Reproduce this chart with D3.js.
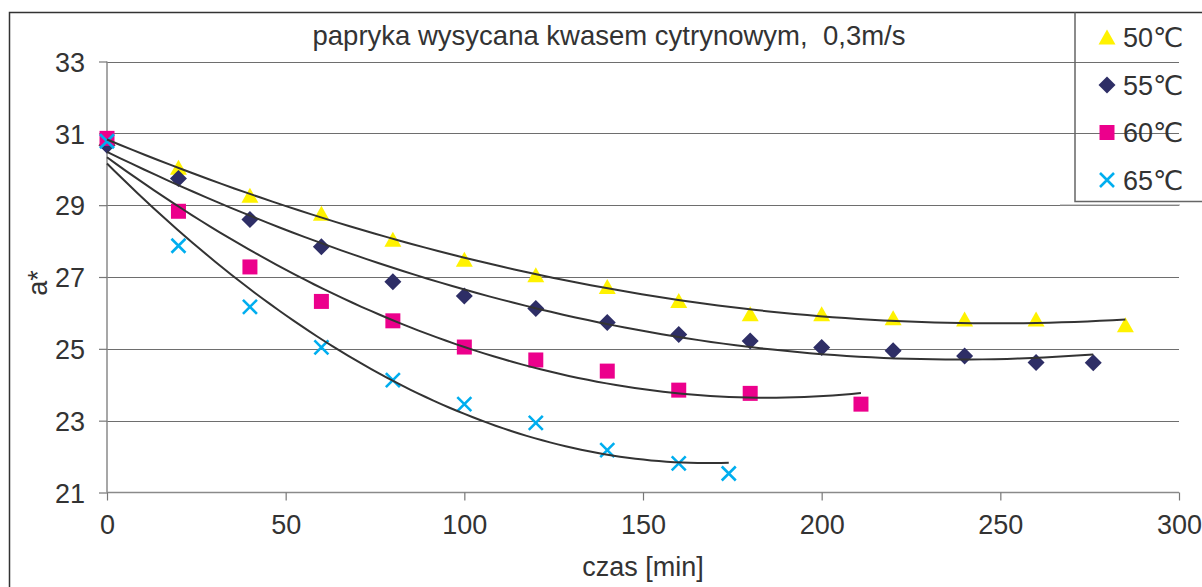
<!DOCTYPE html>
<meta charset="utf-8">
<style>
    body { margin: 0; background: #fff; }
    text {
        font-family: "Liberation Sans", Arial, "DejaVu Sans", sans-serif;
        fill: #333;
    }
    .grid line { stroke: #6e6e6e; stroke-width: 1px; }
    .trend { fill: none; stroke: #333; stroke-width: 2px; }
</style>
<body>
<script src="https://d3js.org/d3.v7.min.js"></script>
<script>

const title = "papryka wysycana kwasem cytrynowym,  0,3m/s";
const xTicks = [0, 50, 100, 150, 200, 250, 300];
const yTicks = [21, 23, 25, 27, 29, 31, 33];

const times50 = [0, 20, 40, 60, 80, 100, 120, 140, 160, 180, 200, 220, 240, 260, 285];
const a50 = [30.85, 30.04, 29.26, 28.76, 28.04, 27.48, 27.05, 26.72, 26.33, 25.96, 25.96, 25.85, 25.82, 25.82, 25.66];

const times55 = [0, 20, 40, 60, 80, 100, 120, 140, 160, 180, 200, 220, 240, 260, 276];
const a55 = [30.67, 29.74, 28.6, 27.84, 26.87, 26.47, 26.12, 25.73, 25.4, 25.22, 25.04, 24.95, 24.8, 24.62, 24.61];

const times60 = [0, 20, 40, 60, 80, 100, 120, 140, 160, 180, 211];
const a60 = [30.86, 28.83, 27.28, 26.32, 25.78, 25.05, 24.69, 24.38, 23.85, 23.76, 23.46];

const times65 = [0, 20, 40, 60, 80, 100, 120, 140, 160, 174];
const a65 = [30.78, 27.87, 26.17, 25.04, 24.13, 23.46, 22.94, 22.18, 21.81, 21.53];

const seriesNames = ["50\u2103", "55\u2103", "60\u2103", "65\u2103"];
const seriesColors = ["#fff200", "#2e2e66", "#ec008c", "#00aeef"];
const seriesShapes = ["triangle", "diamond", "square", "cross"];

const width = 1202;
const height = 587;

const svg = d3.select("body").append("svg")
    .attr("width", width)
    .attr("height", height);

const x = d3.scaleLinear().domain([0, 300]).range([107, 1179]);
const y = d3.scaleLinear().domain([21, 33]).range([492.5, 61.5]);

// outer frame (runs off the right and bottom edge)
svg.append("path")
    .attr("d", `M9.5,${height + 5} V12.5 H${width + 5}`)
    .attr("fill", "none")
    .attr("stroke", "#333")
    .attr("stroke-width", 1.5);

// gridlines
svg.append("g").attr("class", "grid")
    .selectAll("line")
    .data(yTicks.filter(d => d > 21))
    .enter().append("line")
    .attr("x1", x(0)).attr("x2", x(300))
    .attr("y1", d => Math.round(y(d)) + 0.5)
    .attr("y2", d => Math.round(y(d)) + 0.5);

// axes
const xAxis = svg.append("g")
    .attr("transform", `translate(0,${y(21)})`)
    .call(d3.axisBottom(x).tickValues(xTicks).tickSize(8).tickPadding(14).tickFormat(d3.format("d")));
const yAxis = svg.append("g")
    .attr("transform", `translate(${x(0)},0)`)
    .call(d3.axisLeft(y).tickValues(yTicks).tickSize(8).tickPadding(14).tickFormat(d3.format("d")));

[xAxis, yAxis].forEach(g => {
    g.select(".domain").attr("stroke", "#8a8a8a").attr("stroke-width", 1.5);
    g.selectAll(".tick line").attr("stroke", "#777").attr("stroke-width", 1.2);
    g.selectAll(".tick text")
        .attr("fill", "#333")
        .style("font-family", '"Liberation Sans", Arial, sans-serif')
        .style("font-size", "27px");
});
xAxis.select(".domain").attr("d", `M${x(0)},0H${x(300)}`);
yAxis.select(".domain").attr("d", `M0,${y(21)}V${y(33)}`);
yAxis.selectAll(".tick text").attr("dy", "0.36em");

// marker shapes
function markerPath(shape) {
    if (shape === "triangle") return "M0,-8L8.5,7L-8.5,7Z";
    if (shape === "diamond") return "M0,-8.5L8.5,0L0,8.5L-8.5,0Z";
    if (shape === "square") return "M-7.5,-7.5H7.5V7.5H-7.5Z";
    return "M-7,-7L7,7M-7,7L7,-7";
}

function drawMarker(g, shape, color) {
    const p = g.append("path").attr("d", markerPath(shape));
    if (shape === "cross") {
        p.attr("fill", "none").attr("stroke", color).attr("stroke-width", 2.6);
    } else {
        p.attr("fill", color);
    }
}

const allTimes = [times50, times55, times60, times65];
const allValues = [a50, a55, a60, a65];

allTimes.forEach((ts, i) => {
    const pts = ts.map((t, j) => [t, allValues[i][j]]);
    svg.append("g").selectAll("g")
        .data(pts)
        .enter().append("g")
        .attr("transform", d => `translate(${x(d[0])},${y(d[1])})`)
        .each(function () { drawMarker(d3.select(this), seriesShapes[i], seriesColors[i]); });
});

// second order polynomial trendline (least squares, like Excel)
function polyFit(xs, ys) {
    const s = [0, 0, 0, 0, 0], t = [0, 0, 0];
    xs.forEach((xv, k) => {
        for (let p = 0; p < 5; p++) s[p] += Math.pow(xv, p);
        for (let p = 0; p < 3; p++) t[p] += ys[k] * Math.pow(xv, p);
    });
    const m = [[s[0], s[1], s[2], t[0]], [s[1], s[2], s[3], t[1]], [s[2], s[3], s[4], t[2]]];
    for (let c = 0; c < 3; c++) {
        for (let r = c + 1; r < 3; r++) {
            const f = m[r][c] / m[c][c];
            for (let k = c; k < 4; k++) m[r][k] -= f * m[c][k];
        }
    }
    const coef = [0, 0, 0];
    for (let r = 2; r >= 0; r--) {
        let v = m[r][3];
        for (let k = r + 1; k < 3; k++) v -= m[r][k] * coef[k];
        coef[r] = v / m[r][r];
    }
    return coef;
}

const line = d3.line().x(d => x(d[0])).y(d => y(d[1])).curve(d3.curveLinear);

allTimes.forEach((ts, i) => {
    const c = polyFit(ts, allValues[i]);
    const last = ts[ts.length - 1];
    const curve = d3.range(0, last + 0.001, last / 80)
        .map(t => [t, c[0] + c[1] * t + c[2] * t * t]);
    svg.append("path").attr("class", "trend").attr("d", line(curve));
});

// title and axis titles
svg.append("text")
    .attr("x", 609).attr("y", 45)
    .attr("text-anchor", "middle")
    .style("font-size", "27.5px")
    .style("white-space", "pre")
    .text(title);

svg.append("text")
    .attr("x", 643).attr("y", 576)
    .attr("text-anchor", "middle")
    .style("font-size", "27px")
    .text("czas [min]");

svg.append("text")
    .attr("transform", "translate(47,283) rotate(-90)")
    .attr("text-anchor", "middle")
    .style("font-size", "27px")
    .text("a*");

// legend
svg.append("path")
    .attr("d", `M1075,12.5V201.5H${width + 5}`)
    .attr("fill", "none")
    .attr("stroke", "#666")
    .attr("stroke-width", 1.5);
svg.append("line")
    .attr("x1", 1060).attr("x2", 1180)
    .attr("y1", 205).attr("y2", 205)
    .attr("stroke", "#999").attr("stroke-width", 1);

const legend = svg.append("g").selectAll("g")
    .data(seriesNames)
    .enter().append("g")
    .attr("transform", (d, i) => `translate(1107,${37.5 + i * 47.5})`);

legend.each(function (d, i) { drawMarker(d3.select(this), seriesShapes[i], seriesColors[i]); });

legend.append("text")
    .attr("x", 16).attr("dy", "0.36em")
    .style("font-size", "27px")
    .text(d => d);

</script>
</body>
</html>
